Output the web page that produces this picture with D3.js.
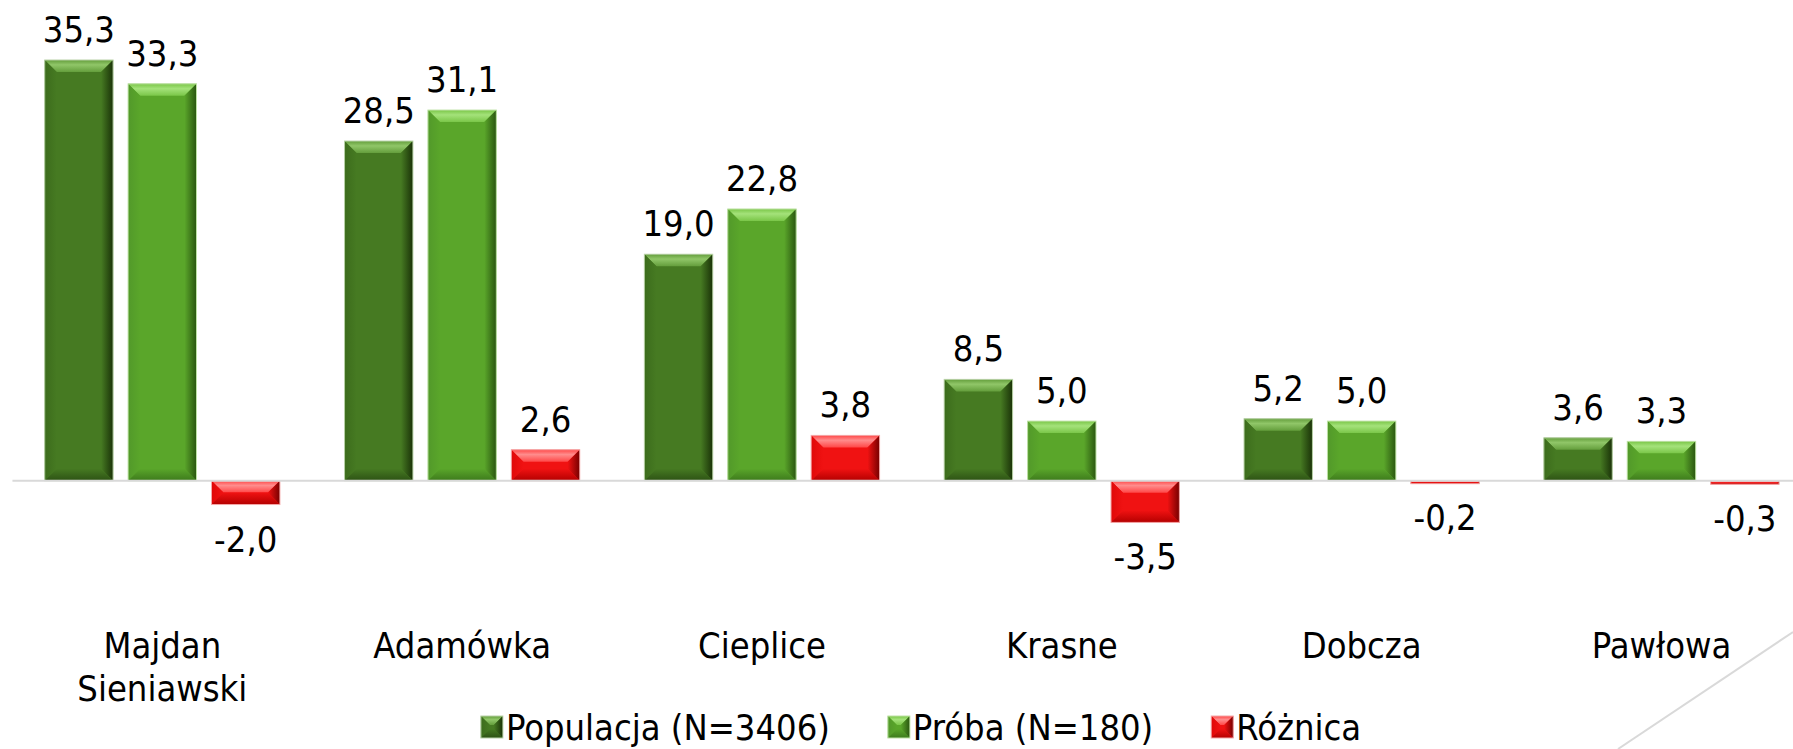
<!DOCTYPE html>
<html>
<head>
<meta charset="utf-8">
<script src="https://cdn.jsdelivr.net/npm/d3@7/dist/d3.min.js"></script>
<style>
  body { margin: 0; background: #fff; }
  svg { display: block; font-family: "DejaVu Sans Condensed", "DejaVu Sans", sans-serif; font-stretch: condensed; }
</style>
</head>
<body>
<svg id="chart" width="1793" height="749"></svg>
<script>
// data
var categories = ["Majdan Sieniawski", "Adamówka", "Cieplice", "Krasne", "Dobcza", "Pawłowa"];
var seriesNames = ["Populacja (N=3406)", "Próba (N=180)", "Różnica"];
var populacja = [35.3, 28.5, 19.0, 8.5, 5.2, 3.6];
var proba = [33.3, 31.1, 22.8, 5.0, 5.0, 3.3];
var roznica = [-2.0, 2.6, 3.8, -3.5, -0.2, -0.3];

var seriesValues = [populacja, proba, roznica];

// bevel palettes, one per series
var palettes = [
  { key: "pop", main: "#467a22", topA: "#649e3c", topB: "#90c668", left: "#3c6c1c", right: "#1a3208", bottom: "#2d5214", edge: "#b9d2a8" },
  { key: "pro", main: "#5aa62a", topA: "#7ac648", topB: "#a4e27a", left: "#52992a", right: "#2a5610", bottom: "#3d7a1c", edge: "#bfe2a6" },
  { key: "roz", main: "#f01212", topA: "#ff4848", topB: "#ff8c8c", left: "#e00808", right: "#760000", bottom: "#b40000", edge: "#f4a9a9" }
];

var svg = d3.select("#chart"),
    width = +svg.attr("width"),
    height = +svg.attr("height");

var fontSize = 36;
var fmt = function(v) { return d3.format(".1f")(v).replace(".", ",").replace("−", "-"); };

var x0 = d3.scaleBand().domain(categories).range([12.45, 1811.45]);
var x1 = d3.scaleBand().domain(seriesNames).range([32.25, 267.45]).paddingInner(0.18);
var y = d3.scaleLinear().domain([0, d3.max(populacja)]).range([480.7, 60]);

// gradients for the bevel facets
var defs = svg.append("defs");
palettes.forEach(function(p) {
  var gt = defs.append("linearGradient").attr("id", "top-" + p.key)
    .attr("x1", 0).attr("y1", 0).attr("x2", 0).attr("y2", 1);
  gt.append("stop").attr("offset", "0%").attr("stop-color", p.topA);
  gt.append("stop").attr("offset", "40%").attr("stop-color", p.topB);
  gt.append("stop").attr("offset", "100%").attr("stop-color", p.topA);

  var gr = defs.append("linearGradient").attr("id", "right-" + p.key)
    .attr("x1", 0).attr("y1", 0).attr("x2", 1).attr("y2", 0);
  gr.append("stop").attr("offset", "0%").attr("stop-color", p.main);
  gr.append("stop").attr("offset", "100%").attr("stop-color", p.right);

  var gl = defs.append("linearGradient").attr("id", "left-" + p.key)
    .attr("x1", 0).attr("y1", 0).attr("x2", 1).attr("y2", 0);
  gl.append("stop").attr("offset", "0%").attr("stop-color", p.left);
  gl.append("stop").attr("offset", "100%").attr("stop-color", p.main);

  var gb = defs.append("linearGradient").attr("id", "bottom-" + p.key)
    .attr("x1", 0).attr("y1", 0).attr("x2", 0).attr("y2", 1);
  gb.append("stop").attr("offset", "0%").attr("stop-color", p.main);
  gb.append("stop").attr("offset", "100%").attr("stop-color", p.bottom);
});

function pts(a) { return a.map(function(d) { return d.join(","); }).join(" "); }

function bevelBox(g, bx, by, w, h, p, maxB) {
  var b = Math.min(maxB, w / 2, h / 2);
  var xa = bx, xb = bx + w, ya = by, yb = by + h;
  var base = g.append("rect").attr("x", xa).attr("y", ya).attr("width", w).attr("height", h).attr("fill", p.main);
  if (b > 1) {
    g.append("polygon").attr("points", pts([[xa, ya], [xb, ya], [xb - b, ya + b], [xa + b, ya + b]])).attr("fill", "url(#top-" + p.key + ")");
    g.append("polygon").attr("points", pts([[xa, ya], [xa + b, ya + b], [xa + b, yb - b], [xa, yb]])).attr("fill", "url(#left-" + p.key + ")");
    g.append("polygon").attr("points", pts([[xb, ya], [xb, yb], [xb - b, yb - b], [xb - b, ya + b]])).attr("fill", "url(#right-" + p.key + ")");
    g.append("polygon").attr("points", pts([[xa, yb], [xa + b, yb - b], [xb - b, yb - b], [xb, yb]])).attr("fill", "url(#bottom-" + p.key + ")");
  } else {
    base.attr("fill", p.bottom);
  }
  g.append("rect").attr("x", xa).attr("y", ya).attr("width", w).attr("height", h)
    .attr("fill", "none").attr("stroke", p.edge).attr("stroke-width", 1);
}

// decorative template line, bottom right
svg.append("line")
  .attr("x1", 1793).attr("y1", 632).attr("x2", 1618).attr("y2", 749)
  .attr("stroke", "#d9d9d9").attr("stroke-width", 2);

// bars
var groups = svg.append("g").attr("class", "bars")
  .selectAll("g").data(categories).enter().append("g")
  .attr("transform", function(d) { return "translate(" + x0(d) + ",0)"; });

groups.each(function(cat, ci) {
  var g = d3.select(this);
  seriesNames.forEach(function(s, si) {
    var v = seriesValues[si][ci];
    var bx = x1(s), w = x1.bandwidth();
    var top = Math.min(y(v), y(0)), h = Math.abs(y(v) - y(0));
    bevelBox(g.append("g"), bx, top, w, Math.max(h, 3), palettes[si], 12);
    g.append("text")
      .attr("x", bx + w / 2)
      .attr("y", v >= 0 ? y(v) - 18 : y(v) + 47)
      .attr("text-anchor", "middle")
      .attr("font-size", fontSize)
      .attr("fill", "#000")
      .text(fmt(v));
  });
});

// zero line
svg.append("line")
  .attr("x1", x0.range()[0]).attr("x2", width)
  .attr("y1", y(0)).attr("y2", y(0))
  .attr("stroke", "#d9d9d9").attr("stroke-width", 2);

// category labels
var catLabels = svg.append("g").attr("class", "x-labels")
  .selectAll("text").data(categories).enter().append("text")
  .attr("text-anchor", "middle")
  .attr("font-size", fontSize)
  .attr("fill", "#000")
  .attr("transform", function(d) { return "translate(" + (x0(d) + x0.bandwidth() / 2) + "," + (y(0) + 177.5) + ")"; });

catLabels.each(function(d) {
  var words = d.split(" ");
  var t = d3.select(this);
  words.forEach(function(wd, i) {
    t.append("tspan").attr("x", 0).attr("y", i * 42.5).text(wd);
  });
});

// legend
var legend = svg.append("g").attr("class", "legend");
var items = legend.selectAll("g").data(seriesNames).enter().append("g");
var mk = 22, gapText = 3, gapItem = 58, legendY = 740;
items.append("text")
  .attr("x", mk + gapText)
  .attr("y", 0)
  .attr("font-size", fontSize)
  .attr("fill", "#000")
  .text(function(d) { return d; });
var widths = [];
items.each(function() { widths.push(mk + gapText + d3.select(this).select("text").node().getComputedTextLength()); });
var total = d3.sum(widths) + gapItem * (widths.length - 1);
var lx = 921 - total / 2;
items.each(function(d, i) {
  var g = d3.select(this).attr("transform", "translate(" + lx + "," + legendY + ")");
  bevelBox(g.insert("g", "text"), 0, -24, mk, mk, palettes[i], 9);
  lx += widths[i] + gapItem;
});
</script>
</body>
</html>
